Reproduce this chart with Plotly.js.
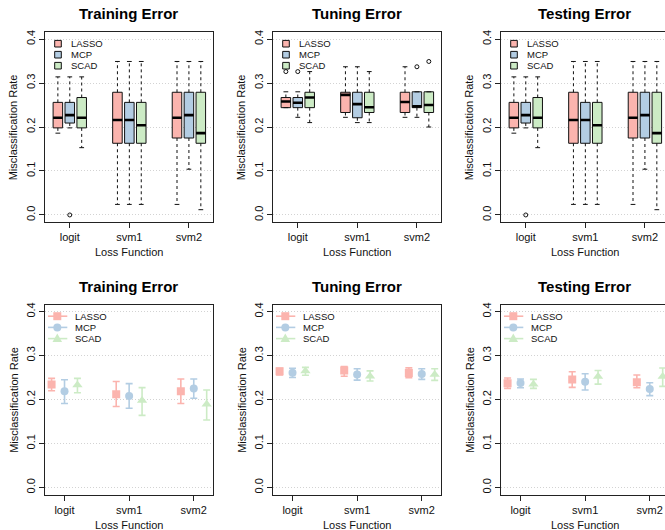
<!DOCTYPE html>
<html><head><meta charset="utf-8">
<script src="https://cdn.plot.ly/plotly-3.0.1.min.js"></script>
<style>html,body{margin:0;padding:0;overflow:hidden;background:#fff}#chart{width:700px;height:530px}</style>
</head><body><div id="chart"></div>
<script>
// ---------- data ----------
const losses = ['logit', 'svm1', 'svm2'];
const methods = ['LASSO', 'MCP', 'SCAD'];
const panelTitles = ['Training Error', 'Tuning Error', 'Testing Error'];
const methodColors = { LASSO: '#FBB4AE', MCP: '#B3CDE3', SCAD: '#CCEBC5' };

// Box-plot statistics per method, values for [logit, svm1, svm2]
const trainLower  = { LASSO: [0.186, 0.024, 0.024], MCP: [0.198, 0.024, 0.104], SCAD: [0.153, 0.024, 0.012] };
const trainQ1     = { LASSO: [0.198, 0.163, 0.175], MCP: [0.209, 0.163, 0.175], SCAD: [0.198, 0.163, 0.163] };
const trainMedian = { LASSO: [0.221, 0.216, 0.221], MCP: [0.227, 0.216, 0.227], SCAD: [0.221, 0.204, 0.186] };
const trainQ3     = { LASSO: [0.256, 0.279, 0.279], MCP: [0.256, 0.256, 0.279], SCAD: [0.267, 0.256, 0.279] };
const trainUpper  = { LASSO: [0.314, 0.349, 0.349], MCP: [0.314, 0.349, 0.349], SCAD: [0.314, 0.349, 0.349] };
const trainOutliers = { LASSO: [], MCP: [['logit', 0.0]], SCAD: [] };

const tuneLower  = { LASSO: [0.244, 0.222, 0.222], MCP: [0.222, 0.210, 0.222], SCAD: [0.210, 0.210, 0.200] };
const tuneQ1     = { LASSO: [0.244, 0.233, 0.233], MCP: [0.244, 0.221, 0.244], SCAD: [0.244, 0.233, 0.233] };
const tuneMedian = { LASSO: [0.258, 0.273, 0.257], MCP: [0.255, 0.252, 0.247], SCAD: [0.267, 0.245, 0.250] };
const tuneQ3     = { LASSO: [0.267, 0.279, 0.279], MCP: [0.267, 0.279, 0.280], SCAD: [0.279, 0.279, 0.280] };
const tuneUpper  = { LASSO: [0.280, 0.337, 0.337], MCP: [0.280, 0.337, 0.280], SCAD: [0.326, 0.326, 0.280] };
const tuneOutliers = { LASSO: [['logit', 0.326]], MCP: [['logit', 0.326], ['svm2', 0.337]], SCAD: [['svm2', 0.349]] };

const testLower  = { LASSO: [0.186, 0.024, 0.024], MCP: [0.198, 0.024, 0.104], SCAD: [0.153, 0.024, 0.012] };
const testQ1     = { LASSO: [0.198, 0.163, 0.175], MCP: [0.209, 0.163, 0.175], SCAD: [0.198, 0.163, 0.163] };
const testMedian = { LASSO: [0.221, 0.216, 0.221], MCP: [0.227, 0.216, 0.227], SCAD: [0.221, 0.204, 0.186] };
const testQ3     = { LASSO: [0.256, 0.279, 0.279], MCP: [0.256, 0.256, 0.279], SCAD: [0.267, 0.256, 0.279] };
const testUpper  = { LASSO: [0.314, 0.349, 0.349], MCP: [0.314, 0.349, 0.349], SCAD: [0.314, 0.349, 0.349] };
const testOutliers = { LASSO: [], MCP: [['logit', 0.0]], SCAD: [] };

// Mean and interval (lower/upper) per method, values for [logit, svm1, svm2]
const trainMean = { LASSO: [0.234, 0.212, 0.2185], MCP: [0.2185, 0.208, 0.225], SCAD: [0.233, 0.198, 0.189] };
const trainHi   = { LASSO: [0.248, 0.241, 0.2465], MCP: [0.245, 0.236, 0.2465], SCAD: [0.248, 0.227, 0.2215] };
const trainLo   = { LASSO: [0.220, 0.184, 0.191],  MCP: [0.191, 0.180, 0.203],  SCAD: [0.2155, 0.164, 0.1535] };

const tuneMean = { LASSO: [0.264, 0.266, 0.260], MCP: [0.261, 0.257, 0.258], SCAD: [0.2646, 0.253, 0.257] };
const tuneHi   = { LASSO: [0.271, 0.275, 0.272], MCP: [0.271, 0.270, 0.270], SCAD: [0.273, 0.265, 0.270] };
const tuneLo   = { LASSO: [0.256, 0.253, 0.2495], MCP: [0.250, 0.244, 0.2457], SCAD: [0.255, 0.242, 0.2435] };

const testMean = { LASSO: [0.2367, 0.2457, 0.239], MCP: [0.2374, 0.2404, 0.2238], SCAD: [0.2344, 0.2525, 0.2525] };
const testHi   = { LASSO: [0.2488, 0.263, 0.2556], MCP: [0.2465, 0.2586, 0.238], SCAD: [0.2457, 0.266, 0.2715] };
const testLo   = { LASSO: [0.2253, 0.2276, 0.2268], MCP: [0.2268, 0.2215, 0.2087], SCAD: [0.2253, 0.235, 0.2299] };

const yTickVals = [0, 0.1, 0.2, 0.3, 0.4];
const yTickText = ['0.0', '0.1', '0.2', '0.3', '0.4'];

// ---------- layout helpers ----------
const W = 700, H = 530;
const FONT = 'Liberation Sans, Arial, Helvetica, sans-serif';
const colLeft = [45, 273, 501];
const rowTop = [32, 304.5];
const frameW = 167.5, frameH = 190;
const PX = v => v / W, PY = v => 1 - v / H;

const boxSets = [
  { lo: trainLower, q1: trainQ1, med: trainMedian, q3: trainQ3, hi: trainUpper, out: trainOutliers },
  { lo: tuneLower, q1: tuneQ1, med: tuneMedian, q3: tuneQ3, hi: tuneUpper, out: tuneOutliers },
  { lo: testLower, q1: testQ1, med: testMedian, q3: testQ3, hi: testUpper, out: testOutliers }
];
const meanSets = [
  { m: trainMean, hi: trainHi, lo: trainLo },
  { m: tuneMean, hi: tuneHi, lo: tuneLo },
  { m: testMean, hi: testHi, lo: testLo }
];

const boxWidth = 0.8, stapleHalf = 0.2, medHalf = 0.4;
const boxPos = (li, mi) => 1 + 5 * li + mi;
const ptPos = (li, mi) => li + 1 + (mi - 1) * 0.2;
const markerSymbols = { LASSO: 'square', MCP: 'circle', SCAD: 'triangle-up' };
const markerSizes = { LASSO: 8, MCP: 8, SCAD: 9 };

const traces = [];
const layout = {
  width: W, height: H, margin: { l: 0, r: 0, t: 0, b: 0 },
  paper_bgcolor: '#fff', plot_bgcolor: '#fff',
  showlegend: false, boxmode: 'overlay',
  font: { family: FONT, color: '#111' },
  annotations: [], shapes: []
};

function axisIds(k) { return k === 0 ? ['x', 'y', 'xaxis', 'yaxis'] : ['x' + (k + 1), 'y' + (k + 1), 'xaxis' + (k + 1), 'yaxis' + (k + 1)]; }

for (let r = 0; r < 2; r++) {
  for (let c = 0; c < 3; c++) {
    const k = r * 3 + c;
    const [xa, ya, xk, yk] = axisIds(k);
    const L = colLeft[c], T = rowTop[r];
    const common = {
      showline: true, mirror: true, linecolor: '#222', linewidth: 1,
      ticks: 'outside', ticklen: 5, tickcolor: '#222', tickwidth: 1,
      tickfont: { family: FONT, size: 11, color: '#111' }, zeroline: false, fixedrange: true
    };
    layout[xk] = Object.assign({}, common, {
      domain: [PX(L), PX(L + frameW)], anchor: ya, showgrid: false,
      range: r === 0 ? [-0.08, 13.98] : [0.698, 3.29],
      tickmode: 'array',
      tickvals: r === 0 ? losses.map((_, li) => boxPos(li, 1)) : losses.map((_, li) => li + 1),
      ticktext: losses
    });
    layout[yk] = Object.assign({}, common, {
      domain: [PY(T + frameH), PY(T)], anchor: xa,
      range: [-0.016, 0.416], tickmode: 'array', tickvals: yTickVals, ticktext: yTickText,
      tickangle: -90, showgrid: true, gridcolor: '#d3d3d3', griddash: '1px,2px', gridwidth: 1
    });

    // titles
    layout.annotations.push({ xref: 'paper', yref: 'paper', x: PX(L + frameW / 2), y: PY(T - 18), xanchor: 'center', yanchor: 'middle',
      text: '<b>' + panelTitles[c] + '</b>', showarrow: false, font: { family: FONT, size: 15, color: '#000' } });
    layout.annotations.push({ xref: 'paper', yref: 'paper', x: PX(L + frameW / 2), y: PY(T + frameH + 30.5), xanchor: 'center', yanchor: 'middle',
      text: 'Loss Function', showarrow: false, font: { family: FONT, size: 11, color: '#111' } });
    layout.annotations.push({ xref: 'paper', yref: 'paper', x: PX(L - 31.7), y: PY(T + frameH / 2), xanchor: 'center', yanchor: 'middle',
      text: 'Misclassification Rate', textangle: -90, showarrow: false, font: { family: FONT, size: 11, color: '#111' } });

    if (r === 0) {
      const s = boxSets[c];
      methods.forEach((m, mi) => {
        const xs = losses.map((_, li) => boxPos(li, mi));
        traces.push({ type: 'box', xaxis: xa, yaxis: ya, x: xs,
          q1: s.q1[m], median: s.med[m], q3: s.q3[m], lowerfence: s.q1[m], upperfence: s.q3[m],
          width: boxWidth, whiskerwidth: 0, boxpoints: false, fillcolor: methodColors[m],
          line: { color: '#111', width: 1 }, hoverinfo: 'skip', name: m });
        const wx = [], wy = [], cx = [], cy = [], mx = [], my = [];
        xs.forEach((p, li) => {
          wx.push(p, p, null, p, p, null); wy.push(s.q3[m][li], s.hi[m][li], null, s.q1[m][li], s.lo[m][li], null);
          cx.push(p - stapleHalf, p + stapleHalf, null, p - stapleHalf, p + stapleHalf, null);
          cy.push(s.hi[m][li], s.hi[m][li], null, s.lo[m][li], s.lo[m][li], null);
          mx.push(p - medHalf, p + medHalf, null); my.push(s.med[m][li], s.med[m][li], null);
        });
        traces.push({ type: 'scatter', mode: 'lines', xaxis: xa, yaxis: ya, x: wx, y: wy, line: { color: '#111', width: 1, dash: '3px,3px' }, hoverinfo: 'skip', connectgaps: false });
        traces.push({ type: 'scatter', mode: 'lines', xaxis: xa, yaxis: ya, x: cx, y: cy, line: { color: '#111', width: 1 }, hoverinfo: 'skip' });
        traces.push({ type: 'scatter', mode: 'lines', xaxis: xa, yaxis: ya, x: mx, y: my, line: { color: '#000', width: 2.6 }, hoverinfo: 'skip' });
        const outs = s.out[m];
        if (outs.length) {
          traces.push({ type: 'scatter', mode: 'markers', xaxis: xa, yaxis: ya,
            x: outs.map(o => boxPos(losses.indexOf(o[0]), mi)), y: outs.map(o => o[1]),
            marker: { symbol: 'circle-open', size: 4, color: '#111', line: { width: 1, color: '#111' } }, hoverinfo: 'skip' });
        }
        // legend key
        const ly = T + 11.7 + 11 * mi;
        layout.shapes.push({ type: 'rect', xref: 'paper', yref: 'paper', x0: PX(L + 9.7), x1: PX(L + 16.3), y0: PY(ly + 3.3), y1: PY(ly - 3.3),
          fillcolor: methodColors[m], line: { color: '#111', width: 1 } });
        layout.annotations.push({ xref: 'paper', yref: 'paper', x: PX(L + 24.2), y: PY(ly), xanchor: 'left', yanchor: 'middle',
          text: m, showarrow: false, font: { family: FONT, size: 9.5, color: '#111' } });
      });
    } else {
      const s = meanSets[c];
      methods.forEach((m, mi) => {
        traces.push({ type: 'scatter', mode: 'markers', xaxis: xa, yaxis: ya,
          x: losses.map((_, li) => ptPos(li, mi)), y: s.m[m],
          error_y: { type: 'data', symmetric: false,
            array: s.m[m].map((v, i) => s.hi[m][i] - v), arrayminus: s.m[m].map((v, i) => v - s.lo[m][i]),
            color: methodColors[m], thickness: 1.6, width: 3.5 },
          marker: { symbol: markerSymbols[m], size: markerSizes[m], color: methodColors[m] }, hoverinfo: 'skip', name: m });
        // legend key
        const ly = T + 11.7 + 11.2 * mi;
        const col = methodColors[m];
        layout.shapes.push({ type: 'line', xref: 'paper', yref: 'paper', x0: PX(L + 3), x1: PX(L + 22.3), y0: PY(ly), y1: PY(ly), line: { color: col, width: 1.6 } });
        const mxp = L + 12.3;
        if (m === 'LASSO') {
          layout.shapes.push({ type: 'rect', xref: 'paper', yref: 'paper', x0: PX(mxp - 4), x1: PX(mxp + 4), y0: PY(ly + 4), y1: PY(ly - 4), fillcolor: col, line: { width: 0 } });
        } else if (m === 'MCP') {
          layout.shapes.push({ type: 'circle', xref: 'paper', yref: 'paper', x0: PX(mxp - 4), x1: PX(mxp + 4), y0: PY(ly + 4), y1: PY(ly - 4), fillcolor: col, line: { width: 0 } });
        } else {
          const p = 'M' + PX(mxp - 4.8) + ',' + PY(ly + 3.3) + ' L' + PX(mxp + 4.8) + ',' + PY(ly + 3.3) + ' L' + PX(mxp) + ',' + PY(ly - 5) + ' Z';
          layout.shapes.push({ type: 'path', xref: 'paper', yref: 'paper', path: p, fillcolor: col, line: { width: 0 } });
        }
        layout.annotations.push({ xref: 'paper', yref: 'paper', x: PX(L + 27.5), y: PY(ly), xanchor: 'left', yanchor: 'middle',
          text: m, showarrow: false, font: { family: FONT, size: 9.5, color: '#111' } });
      });
    }
  }
}

Plotly.newPlot('chart', traces, layout, { staticPlot: true, displayModeBar: false });
</script>
</body></html>
